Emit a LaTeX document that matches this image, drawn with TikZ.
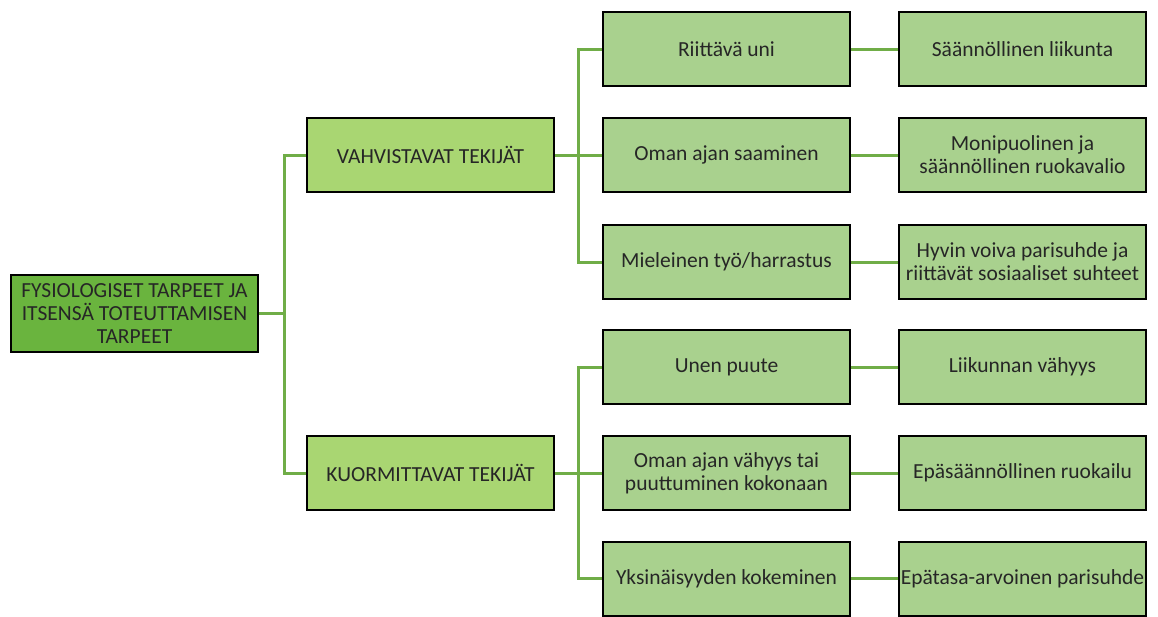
\documentclass[tikz,border=0pt]{standalone}
\usepackage{fontspec}
\setmainfont{Carlito}
\definecolor{rootfill}{RGB}{106,180,62}
\definecolor{midfill}{RGB}{169,214,114}
\definecolor{leaffill}{RGB}{169,209,142}
\definecolor{linkc}{RGB}{112,173,71}
\begin{document}
\begin{tikzpicture}[x=1pt,y=-1pt,
  box/.style={draw=black,line width=2pt,minimum width=247pt,minimum height=74pt,inner sep=1pt,align=center,font=\fontsize{21.5}{23}\selectfont,text=black!85},
  rootbox/.style={box,fill=rootfill,minimum height=77pt},
  midbox/.style={box,fill=midfill},
  leafbox/.style={box,fill=leaffill},
  link/.style={draw=linkc,line width=3pt}]
\useasboundingbox (0,0) rectangle (1158,616);
\coordinate (r1) at (284,313.5);
\coordinate (v1) at (578,155);
\coordinate (k1) at (578,473);
\draw[link] (134.5,313.5) -- (r1);
\draw[link] (430.5,155) -| (r1) |- (430.5,473);
\draw[link] (430.5,155) -- (v1);
\draw[link] (726.5,49) -| (v1) |- (726.5,262);
\draw[link] (v1) -- (726.5,155);
\draw[link] (430.5,473) -- (k1);
\draw[link] (726.5,367) -| (k1) |- (726.5,578.5);
\draw[link] (k1) -- (726.5,473);
\node[rootbox] (root) at (134.5,313.5) {FYSIOLOGISET TARPEET JA\\ITSENSÄ TOTEUTTAMISEN\\TARPEET};
\node[midbox] (vah) at (430.5,155) {VAHVISTAVAT TEKIJÄT};
\node[midbox] (kuo) at (430.5,473) {KUORMITTAVAT TEKIJÄT};
\node[leafbox] (a1) at (726.5,49) {Riittävä uni};
\node[leafbox] (a2) at (726.5,155) {Oman ajan saaminen};
\node[leafbox] (a3) at (726.5,262) {Mieleinen työ/harrastus};
\node[leafbox] (b1) at (726.5,367) {Unen puute};
\node[leafbox] (b2) at (726.5,473) {Oman ajan vähyys tai\\puuttuminen kokonaan};
\node[leafbox] (b3) at (726.5,578.5) {Yksinäisyyden kokeminen};
\node[leafbox] (c1) at (1022.5,49) {Säännöllinen liikunta};
\node[leafbox] (c2) at (1022.5,155) {Monipuolinen ja\\säännöllinen ruokavalio};
\node[leafbox] (c3) at (1022.5,262) {Hyvin voiva parisuhde ja\\riittävät sosiaaliset suhteet};
\node[leafbox] (d1) at (1022.5,367) {Liikunnan vähyys};
\node[leafbox] (d2) at (1022.5,473) {Epäsäännöllinen ruokailu};
\node[leafbox,inner sep=0pt] (d3) at (1022.5,578.5) {Epätasa-arvoinen parisuhde};
\draw[link] (a1) -- (c1); \draw[link] (a2) -- (c2); \draw[link] (a3) -- (c3);
\draw[link] (b1) -- (d1); \draw[link] (b2) -- (d2); \draw[link] (b3) -- (d3);
\end{tikzpicture}
\end{document}
